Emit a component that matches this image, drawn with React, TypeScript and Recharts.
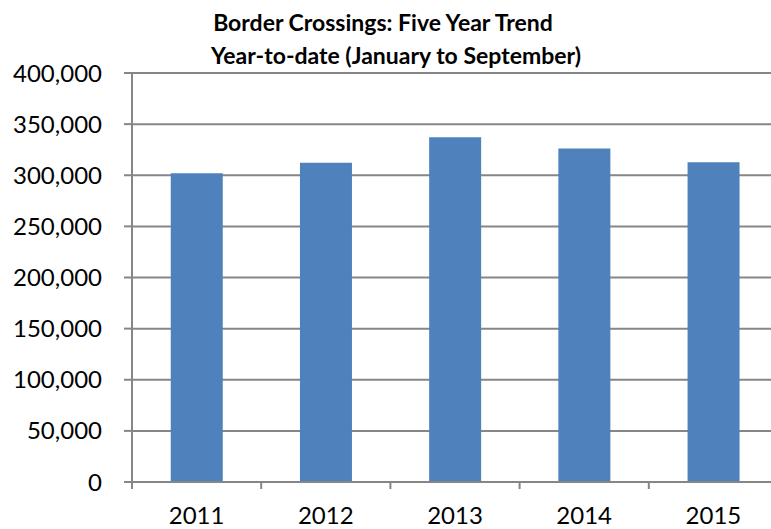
import React from 'react'
import { BarChart, Bar, XAxis, YAxis, CartesianGrid } from 'recharts'

// year-to-date border crossings
const years = ['2011', '2012', '2013', '2014', '2015']
const crossings = [302000, 312300, 337100, 326200, 312600]
const yTicks = [0, 50000, 100000, 150000, 200000, 250000, 300000, 350000, 400000]
const titleLines = ['Border Crossings: Five Year Trend', 'Year-to-date (January to September)']

const data = years.map((year, i) => ({ year, crossings: crossings[i] }))

const FONT = 'Lato, "Open Sans", sans-serif'
const GRAY = '#868686'

function YearTick(props: any) {
  const { x, y, payload, index, width } = props
  const band = (width || 646) / years.length
  const left = x - band / 2
  return (
    <g>
      <line x1={left} x2={left} y1={y} y2={y + 7} stroke={GRAY} strokeWidth={2} />
      {index === years.length - 1 && (
        <line x1={left + band} x2={left + band} y1={y} y2={y + 7} stroke={GRAY} strokeWidth={2} />
      )}
      <text x={x} y={y + 25} dy="0.71em" textAnchor="middle" fill="#000" fontSize={24} fontFamily={FONT}>
        {payload.value}
      </text>
    </g>
  )
}

export default function App() {
  return (
    <div style={{ position: 'absolute', left: 0, top: 0, width: 771, height: 529, overflow: 'hidden', background: '#fff' }}>
      <BarChart
        width={790}
        height={529}
        data={data}
        margin={{ top: 73, right: 12, bottom: 0, left: 0 }}
        barCategoryGap="30%"
      >
        <CartesianGrid horizontal vertical={false} stroke={GRAY} strokeWidth={2} />
        <XAxis
          dataKey="year"
          height={47}
          axisLine={{ stroke: GRAY, strokeWidth: 2 }}
          tickLine={false}
          tickSize={0}
          tickMargin={0}
          tick={<YearTick />}
          interval={0}
        />
        <YAxis
          width={132}
          domain={[0, 400000]}
          ticks={yTicks}
          interval={0}
          axisLine={{ stroke: GRAY, strokeWidth: 2 }}
          tickLine={{ stroke: GRAY, strokeWidth: 2 }}
          tickSize={8}
          tickMargin={22}
          tick={{ fill: '#000', fontSize: 24, fontFamily: FONT }}
          tickFormatter={(v: number) => v.toLocaleString('en-US')}
        />
        <Bar dataKey="crossings" fill="#4F81BD" isAnimationActive={false} />
      </BarChart>
      <svg width={771} height={70} style={{ position: 'absolute', left: 0, top: 0 }}>
        <text x={383} y={31} textAnchor="middle" fontSize={23} fontWeight="bold" fontFamily={FONT} fill="#000">
          {titleLines[0]}
        </text>
        <text x={396} y={64} textAnchor="middle" fontSize={23} fontWeight="bold" fontFamily={FONT} fill="#000">
          {titleLines[1]}
        </text>
      </svg>
    </div>
  )
}
